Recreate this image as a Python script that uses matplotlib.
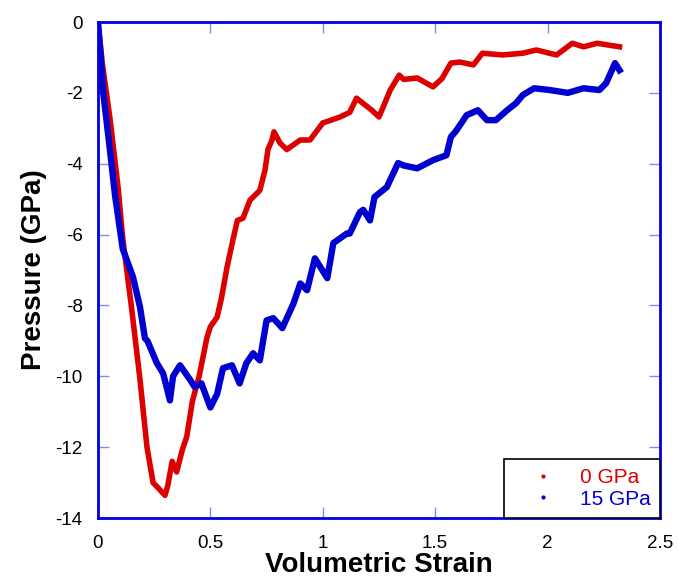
import matplotlib
matplotlib.use("Agg")
import matplotlib.pyplot as plt
from matplotlib.lines import Line2D

plt.rcParams['font.family'] = ['Liberation Sans', 'DejaVu Sans']
plt.rcParams['axes.unicode_minus'] = False

# 0 GPa run (red)
strain_0 = [0, 0.02, 0.053, 0.09, 0.11, 0.15, 0.187, 0.218, 0.245, 0.275, 0.298,
            0.31, 0.33, 0.35, 0.374, 0.395, 0.42, 0.45, 0.485, 0.5, 0.53, 0.55,
            0.574, 0.60, 0.62, 0.645, 0.676, 0.72, 0.743, 0.756, 0.774, 0.783,
            0.81, 0.84, 0.9, 0.943, 1.0, 1.077, 1.12, 1.15, 1.17, 1.22, 1.25,
            1.30, 1.34, 1.36, 1.42, 1.49, 1.53, 1.57, 1.61, 1.67, 1.71, 1.80,
            1.89, 1.95, 2.04, 2.11, 2.16, 2.22, 2.32]
press_0 = [0, -1.2, -2.7, -4.7, -6.1, -8.1, -10.1, -12.0, -13.0, -13.2, -13.36,
           -13.1, -12.4, -12.7, -12.1, -11.7, -10.7, -10.0, -8.9, -8.6, -8.33, -7.77,
           -6.92, -6.16, -5.6, -5.54, -5.03, -4.75, -4.18, -3.6, -3.33, -3.1,
           -3.42, -3.6, -3.33, -3.33, -2.85, -2.68, -2.55, -2.15, -2.25, -2.5, -2.68,
           -1.92, -1.5, -1.62, -1.58, -1.83, -1.6, -1.16, -1.13, -1.21, -0.88, -0.93,
           -0.88, -0.79, -0.93, -0.6, -0.7, -0.6, -0.7]

# 15 GPa run (blue)
strain_15 = [0, 0.013, 0.022, 0.053, 0.076, 0.11, 0.156, 0.187, 0.209, 0.22, 0.262,
             0.29, 0.32, 0.334, 0.365, 0.41, 0.43, 0.46, 0.50, 0.53, 0.556, 0.596,
             0.63, 0.66, 0.69, 0.72, 0.75, 0.78, 0.82, 0.87, 0.9, 0.93, 0.965,
             1.02, 1.047, 1.107, 1.12, 1.165, 1.18, 1.21, 1.23, 1.285, 1.335, 1.36,
             1.42, 1.49, 1.55, 1.57, 1.59, 1.64, 1.69, 1.73, 1.77, 1.82, 1.86,
             1.89, 1.94, 2.01, 2.09, 2.16, 2.23, 2.26, 2.30, 2.32]
press_15 = [0, -1.07, -1.92, -3.6, -4.9, -6.4, -7.2, -8.05, -8.93, -9.0, -9.63,
            -9.92, -10.68, -10.0, -9.69, -10.1, -10.3, -10.2, -10.88, -10.5, -9.77, -9.69,
            -10.2, -9.63, -9.35, -9.55, -8.42, -8.36, -8.64, -7.94, -7.38, -7.57, -6.67,
            -7.23, -6.24, -5.97, -5.97, -5.37, -5.3, -5.6, -4.94, -4.66, -3.98, -4.05,
            -4.13, -3.9, -3.76, -3.24, -3.1, -2.63, -2.49, -2.77, -2.77, -2.49, -2.29,
            -2.06, -1.87, -1.92, -2.0, -1.87, -1.92, -1.73, -1.16, -1.36]

red = '#dd0000'
blue = '#0000d0'

fig = plt.figure(figsize=(6.79, 5.87), dpi=100)
ax = fig.add_axes([0.1443, 0.1175, 0.8277, 0.845])

ax.plot(strain_0, press_0, color=red, lw=4.0, solid_joinstyle='round')
ax.plot(strain_15, press_15, color=blue, lw=4.6, solid_joinstyle='round')

ax.set_xlim(0, 2.5)
ax.set_ylim(-14, 0)
ax.set_xticks([0, 0.5, 1, 1.5, 2, 2.5])
ax.set_xticklabels(['0', '0.5', '1', '1.5', '2', '2.5'])
ax.set_yticks(range(-14, 1, 2))
ax.tick_params(direction='in', top=True, right=True, length=8, width=1,
               color='#8888e8', labelsize=13.5)
ax.tick_params(axis='x', pad=12)
ax.tick_params(axis='y', pad=11)
for s in ax.spines.values():
    s.set_color('#0000dd')
    s.set_linewidth(2)

ax.set_xlabel('Volumetric Strain', fontsize=20, fontweight='bold', labelpad=0)
ax.set_ylabel('Pressure (GPa)', fontsize=20, fontweight='bold', labelpad=6)

handles = [Line2D([], [], ls='none', marker='.', markersize=4, color=red),
           Line2D([], [], ls='none', marker='.', markersize=4, color=blue)]
leg = ax.legend(handles, ['0 GPa', '15 GPa'], loc='lower right',
                bbox_to_anchor=(1, 0), borderaxespad=0, fontsize=15,
                fancybox=False, framealpha=1, edgecolor='black',
                handlelength=2.9, handletextpad=0.3, borderpad=0.45,
                labelspacing=0.12, labelcolor=[red, blue])
leg.get_frame().set_linewidth(1.2)

fig.savefig('out.png', dpi=100)
